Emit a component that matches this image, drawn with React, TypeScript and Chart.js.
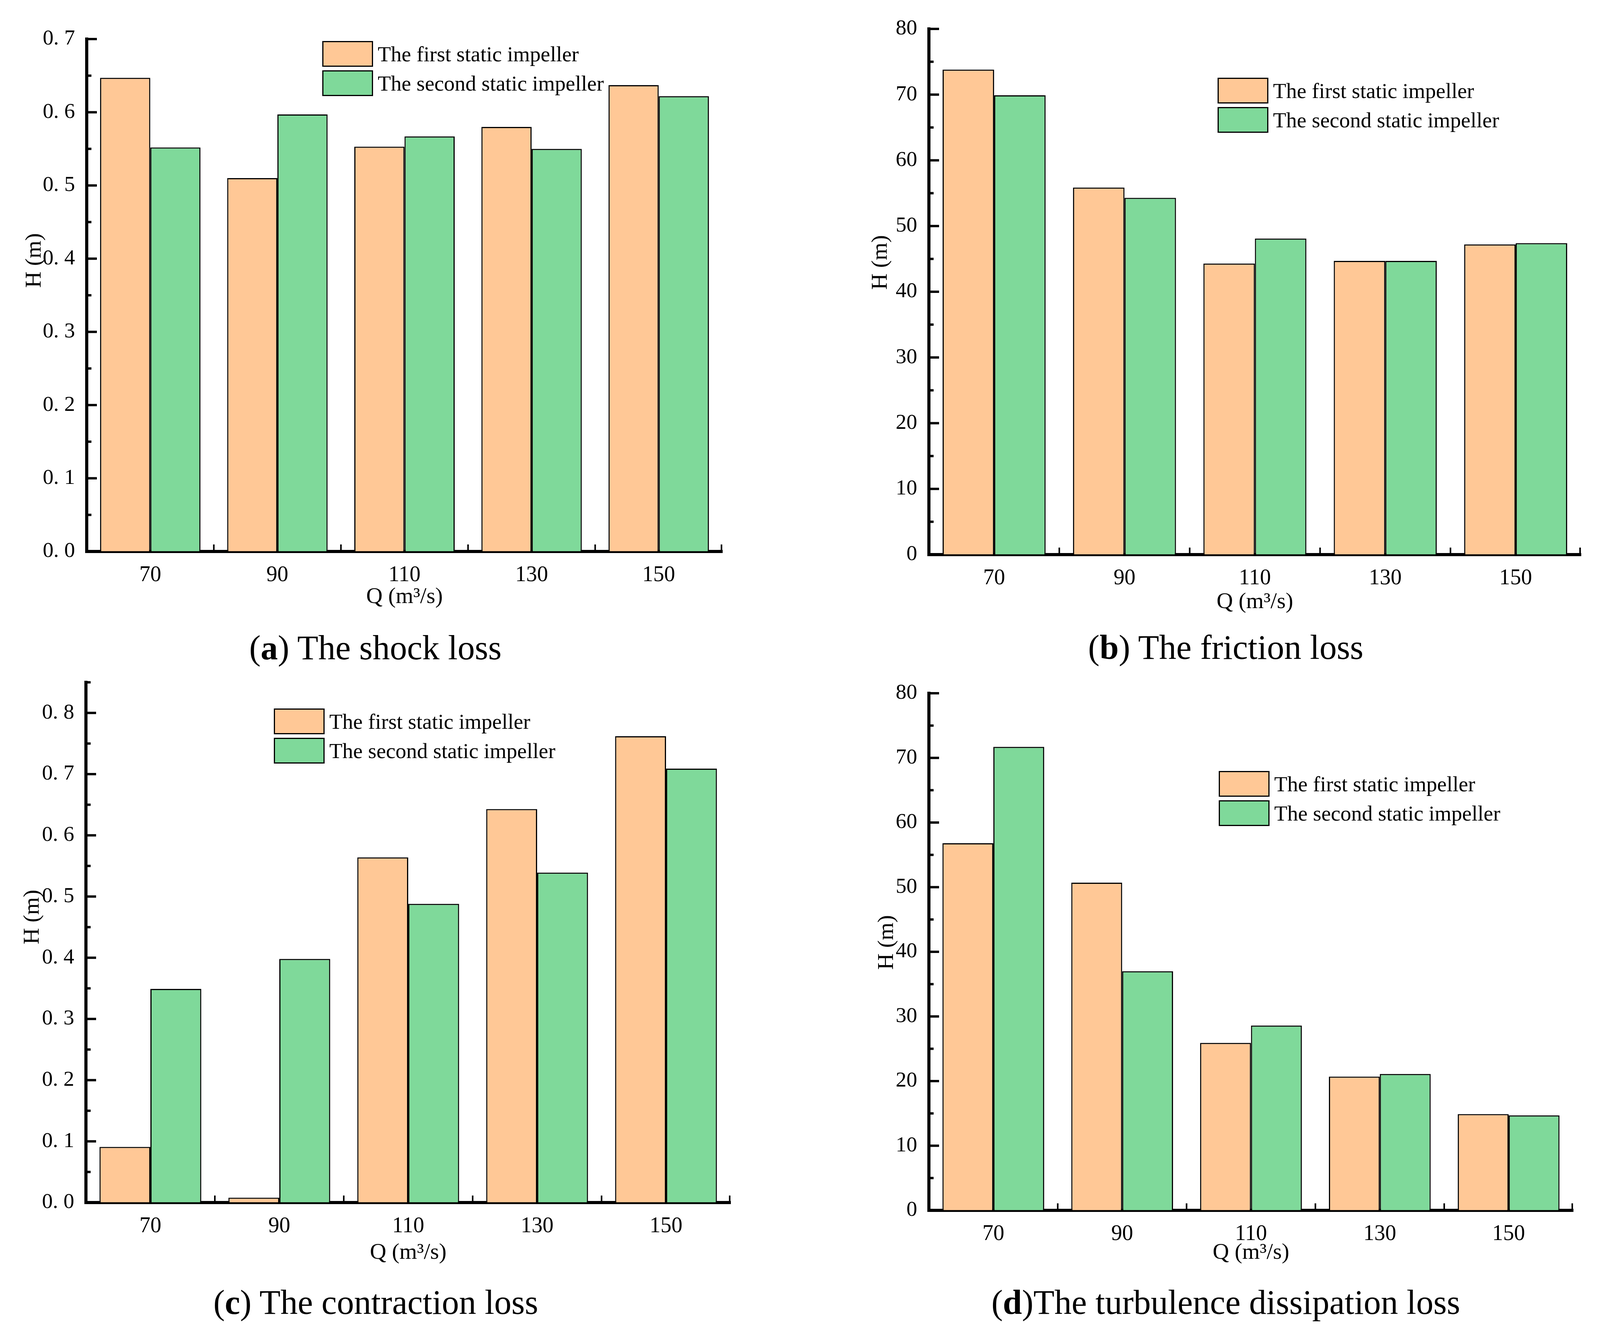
import { useEffect, useRef } from "react"
import { Chart, registerables } from "chart.js"

Chart.register(...registerables)

// flow rates on the x axis (m3/s)
const categories = ["70", "90", "110", "130", "150"]
const seriesNames = ["The first static impeller", "The second static impeller"]
const seriesColors = ["#FFC896", "#7FD99A"]

// (a) shock loss
const shockFirst = [0.647, 0.51, 0.553, 0.58, 0.637]
const shockSecond = [0.552, 0.597, 0.567, 0.55, 0.622]
const shockTicks = [0, 0.1, 0.2, 0.3, 0.4, 0.5, 0.6, 0.7]

// (b) friction loss
const frictionFirst = [73.8, 55.85, 44.3, 44.7, 47.2]
const frictionSecond = [69.9, 54.3, 48.1, 44.7, 47.4]
const frictionTicks = [0, 10, 20, 30, 40, 50, 60, 70, 80]

// (c) contraction loss
const contractionFirst = [0.091, 0.008, 0.564, 0.643, 0.762]
const contractionSecond = [0.349, 0.398, 0.488, 0.539, 0.709]
const contractionTicks = [0, 0.1, 0.2, 0.3, 0.4, 0.5, 0.6, 0.7, 0.8]

// (d) turbulence dissipation loss
const turbulenceFirst = [56.8, 50.7, 25.9, 20.7, 14.9]
const turbulenceSecond = [71.7, 37.0, 28.6, 21.1, 14.7]
const turbulenceTicks = [0, 10, 20, 30, 40, 50, 60, 70, 80]

const FONT = "Liberation Serif"
const Y_W = 240
const X_H = 200
const PAD_TOP = 60
const PAD_RIGHT = 40

interface PanelProps {
  left: number
  top: number
  right: number
  bottom: number
  first: number[]
  second: number[]
  ticks: number[]
  yMax: number
  minor: number
  decimals: number
  legendX: number
  legendY: number
  yTitleX: number
  yTitleY: number
  xTitlePad: number
  letter: string
  caption: string
  captionX: number
  captionY: number
}

const panels: PanelProps[] = [
  {
    left: 222, top: 97, right: 1849, bottom: 1412,
    first: shockFirst, second: shockSecond, ticks: shockTicks, yMax: 0.7, minor: 0.05, decimals: 1,
    legendX: 825, legendY: 105, yTitleX: 89, yTitleY: 667, xTitlePad: 48,
    letter: "a", caption: " The shock loss", captionX: 961, captionY: 1659,
  },
  {
    left: 2378, top: 71, right: 4047, bottom: 1420,
    first: frictionFirst, second: frictionSecond, ticks: frictionTicks, yMax: 80, minor: 5, decimals: 0,
    legendX: 3117, legendY: 199, yTitleX: 2255, yTitleY: 672, xTitlePad: 43,
    letter: "b", caption: " The friction loss", captionX: 3138, captionY: 1658,
  },
  {
    left: 220, top: 1744, right: 1870, bottom: 3079,
    first: contractionFirst, second: contractionSecond, ticks: contractionTicks, yMax: 0.85, minor: 0.05, decimals: 1,
    legendX: 701, legendY: 1814, yTitleX: 84, yTitleY: 2348, xTitlePad: 36,
    letter: "c", caption: " The contraction loss", captionX: 962, captionY: 3335,
  },
  {
    left: 2378, top: 1772, right: 4027, bottom: 3099,
    first: turbulenceFirst, second: turbulenceSecond, ticks: turbulenceTicks, yMax: 80, minor: 5, decimals: 0,
    legendX: 3120, legendY: 1974, yTitleX: 2271, yTitleY: 2413, xTitlePad: 56,
    letter: "d", caption: "The turbulence dissipation loss", captionX: 3138, captionY: 3335,
  },
]

// inward axis ticks and the rotated y title
const axisDecor = {
  id: "axisDecor",
  afterDraw(chart: any, _args: any, opts: any) {
    const { ctx, chartArea } = chart
    const x = chart.scales.x
    const y = chart.scales.y
    ctx.save()
    ctx.strokeStyle = "#000"
    ctx.lineCap = "butt"

    ctx.lineWidth = 6
    const n = Math.round((y.max - y.min) / opts.minor)
    for (let i = 0; i <= n; i++) {
      const py = y.getPixelForValue(y.min + i * opts.minor)
      const len = i % 2 === 0 ? 26 : 12
      ctx.beginPath()
      ctx.moveTo(chartArea.left, py)
      ctx.lineTo(chartArea.left + len, py)
      ctx.stroke()
    }

    ctx.lineWidth = 4
    const bounds: number[] = []
    for (let i = 1; i < categories.length; i++) {
      bounds.push((x.getPixelForValue(i - 1) + x.getPixelForValue(i)) / 2)
    }
    bounds.push(chartArea.right - 2)
    for (const px of bounds) {
      ctx.beginPath()
      ctx.moveTo(px, chartArea.bottom)
      ctx.lineTo(px, chartArea.bottom - 18)
      ctx.stroke()
    }

    ctx.translate(opts.titleX, opts.titleY)
    ctx.rotate(-Math.PI / 2)
    ctx.fillStyle = "#000"
    ctx.font = `58px "${FONT}"`
    ctx.textAlign = "center"
    ctx.textBaseline = "middle"
    ctx.fillText("H (m)", 0, 0)
    ctx.restore()
  },
}

function Panel(p: PanelProps) {
  const chartRef = useRef<HTMLCanvasElement>(null)
  const ox = p.left - Y_W
  const oy = p.top - PAD_TOP
  const w = p.right - p.left + Y_W + PAD_RIGHT
  const h = p.bottom - p.top + PAD_TOP + X_H

  useEffect(() => {
    if (!chartRef.current) return
    const chart = new Chart(chartRef.current, {
      type: "bar",
      data: {
        labels: categories,
        datasets: [
          {
            label: seriesNames[0],
            data: p.first,
            backgroundColor: seriesColors[0],
            borderColor: "#000",
            borderWidth: 3,
            categoryPercentage: 0.79,
            barPercentage: 1,
          },
          {
            label: seriesNames[1],
            data: p.second,
            backgroundColor: seriesColors[1],
            borderColor: "#000",
            borderWidth: 3,
            categoryPercentage: 0.79,
            barPercentage: 1,
          },
        ],
      },
      options: {
        responsive: false,
        animation: false,
        devicePixelRatio: 1,
        layout: { padding: { left: 0, top: PAD_TOP, right: PAD_RIGHT, bottom: 0 } },
        plugins: {
          legend: { display: false },
          tooltip: { enabled: false },
          axisDecor: {
            minor: p.minor,
            titleX: p.yTitleX - ox,
            titleY: p.yTitleY - oy,
          },
        } as any,
        scales: {
          x: {
            z: 1,
            offset: true,
            grid: { drawOnChartArea: false, drawTicks: false },
            border: { display: true, color: "#000", width: 8 },
            ticks: { color: "#000", padding: 28, font: { family: FONT, size: 56 } },
            title: {
              display: true,
              text: "Q (m³/s)",
              color: "#000",
              font: { family: FONT, size: 58 },
              padding: { top: 0, bottom: p.xTitlePad },
            },
            afterFit: (scale: any) => {
              scale.height = X_H
            },
          },
          y: {
            z: 1,
            min: 0,
            max: p.yMax,
            grid: { drawOnChartArea: false, drawTicks: false },
            border: { display: true, color: "#000", width: 8 },
            ticks: {
              color: "#000",
              padding: 30,
              font: { family: FONT, size: 55 },
              callback: (v: any) =>
                p.decimals > 0 ? Number(v).toFixed(p.decimals).replace(".", ". ") : String(Math.round(Number(v))),
            },
            afterBuildTicks: (scale: any) => {
              scale.ticks = p.ticks.map((v) => ({ value: v }))
            },
            afterFit: (scale: any) => {
              scale.width = Y_W
            },
          },
        },
      },
      plugins: [axisDecor],
    })
    return () => {
      chart.destroy()
    }
  }, [])

  return (
    <>
      <canvas
        ref={chartRef}
        width={w}
        height={h}
        style={{ position: "absolute", left: ox, top: oy, width: w, height: h }}
      />
      {seriesNames.map((name, i) => (
        <div
          key={name}
          style={{ position: "absolute", left: p.legendX, top: p.legendY + i * 75, height: 66, display: "flex", alignItems: "center" }}
        >
          <div
            style={{
              width: 130,
              height: 66,
              boxSizing: "border-box",
              border: "3px solid #000",
              background: seriesColors[i],
            }}
          />
          <span style={{ marginLeft: 12, fontFamily: FONT, fontSize: 55, color: "#000", whiteSpace: "nowrap" }}>{name}</span>
        </div>
      ))}
      <div
        style={{
          position: "absolute",
          left: p.captionX - 800,
          top: p.captionY - 50,
          width: 1600,
          height: 100,
          lineHeight: "100px",
          textAlign: "center",
          fontFamily: FONT,
          fontSize: 88,
          color: "#000",
          whiteSpace: "nowrap",
        }}
      >
        (<b>{p.letter}</b>){p.caption}
      </div>
    </>
  )
}

export default function App() {
  return (
    <div style={{ position: "absolute", left: 0, top: 0, width: 4150, height: 3413, background: "#fff", overflow: "hidden" }}>
      {panels.map((p) => (
        <Panel key={p.letter} {...p} />
      ))}
    </div>
  )
}
